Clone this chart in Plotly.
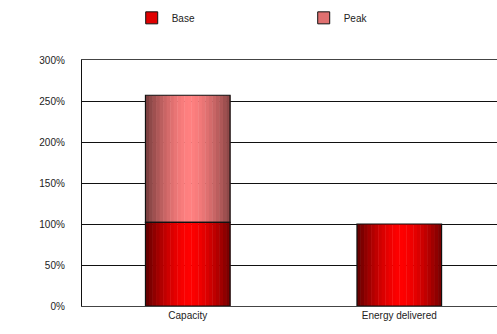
import plotly.graph_objects as go

categories = ["Capacity", "Energy delivered"]
base_values = [102, 100]
peak_values = [155, 0]
series_names = ["Base", "Peak"]
tick_vals = [0, 50, 100, 150, 200, 250, 300]
tick_text = ["0%", "50%", "100%", "150%", "200%", "250%", "300%"]

BAR_W = 0.4
N = 24

def lerp(c1, c2, t):
    return "rgb(%d,%d,%d)" % tuple(round(a + (b - a) * t) for a, b in zip(c1, c2))

def shade(i):
    p = (i + 0.5) / N
    d = abs(p - 0.52) / 0.52
    return max(0.0, min(1.0, d ** 1.6))

fig = go.Figure()

base_dark, base_light = (96, 0, 0), (255, 0, 0)
peak_dark, peak_light = (118, 60, 60), (255, 128, 128)

zeros = [0] * len(categories)
for i in range(N):
    t = shade(i)
    off = -BAR_W / 2 + i * BAR_W / N
    fig.add_trace(go.Bar(x=categories, y=base_values, base=zeros,
                         width=BAR_W / N + 0.002, offset=off,
                         marker=dict(color=lerp(base_light, base_dark, t), line=dict(width=0)),
                         showlegend=False, hoverinfo="skip"))
    fig.add_trace(go.Bar(x=categories, y=peak_values, base=base_values,
                         width=BAR_W / N + 0.002, offset=off,
                         marker=dict(color=lerp(peak_light, peak_dark, t), line=dict(width=0)),
                         showlegend=False, hoverinfo="skip"))

fig.add_trace(go.Bar(x=categories, y=base_values, base=zeros, width=BAR_W, offset=-BAR_W / 2,
                     marker=dict(color="rgba(0,0,0,0)", line=dict(color="#111", width=1.2)),
                     showlegend=False, hoverinfo="skip"))
fig.add_trace(go.Bar(x=[categories[0]], y=[peak_values[0]], base=[base_values[0]], width=BAR_W,
                     offset=-BAR_W / 2,
                     marker=dict(color="rgba(0,0,0,0)", line=dict(color="#111", width=1.2)),
                     showlegend=False, hoverinfo="skip"))

fig.add_trace(go.Bar(x=[categories[0]], y=[None], name=series_names[0],
                     marker=dict(color="#e00000", line=dict(color="#111", width=1))))
fig.add_trace(go.Bar(x=[categories[0]], y=[None], name=series_names[1],
                     marker=dict(color="#e07070", line=dict(color="#111", width=1))))

fig.update_layout(
    width=497, height=334,
    margin=dict(l=82, r=0, t=60, b=28),
    barmode="overlay",
    plot_bgcolor="white", paper_bgcolor="white",
    font=dict(family="Liberation Sans, Arial", size=10, color="#222"),
    legend=dict(orientation="h", xref="container", x=0.265, yref="container", y=0.99,
                yanchor="top", xanchor="left", entrywidth=127, entrywidthmode="pixels",
                font=dict(size=10), itemwidth=30),
    showlegend=True,
)
fig.update_xaxes(range=[-0.5, 1.462], showgrid=False, showline=True, mirror=True,
                 linecolor="#444", linewidth=1.2, ticks="",
                 tickfont=dict(size=10), fixedrange=True)
fig.update_yaxes(range=[0, 300], tickvals=tick_vals, ticktext=tick_text,
                 showgrid=True, gridcolor="#111", gridwidth=1.3,
                 showline=True, linecolor="#111", linewidth=1.3,
                 ticks="", ticklabelstandoff=14, tickfont=dict(size=10),
                 zeroline=True, zerolinecolor="#111", zerolinewidth=1.3)

fig.write_html("out.html")
